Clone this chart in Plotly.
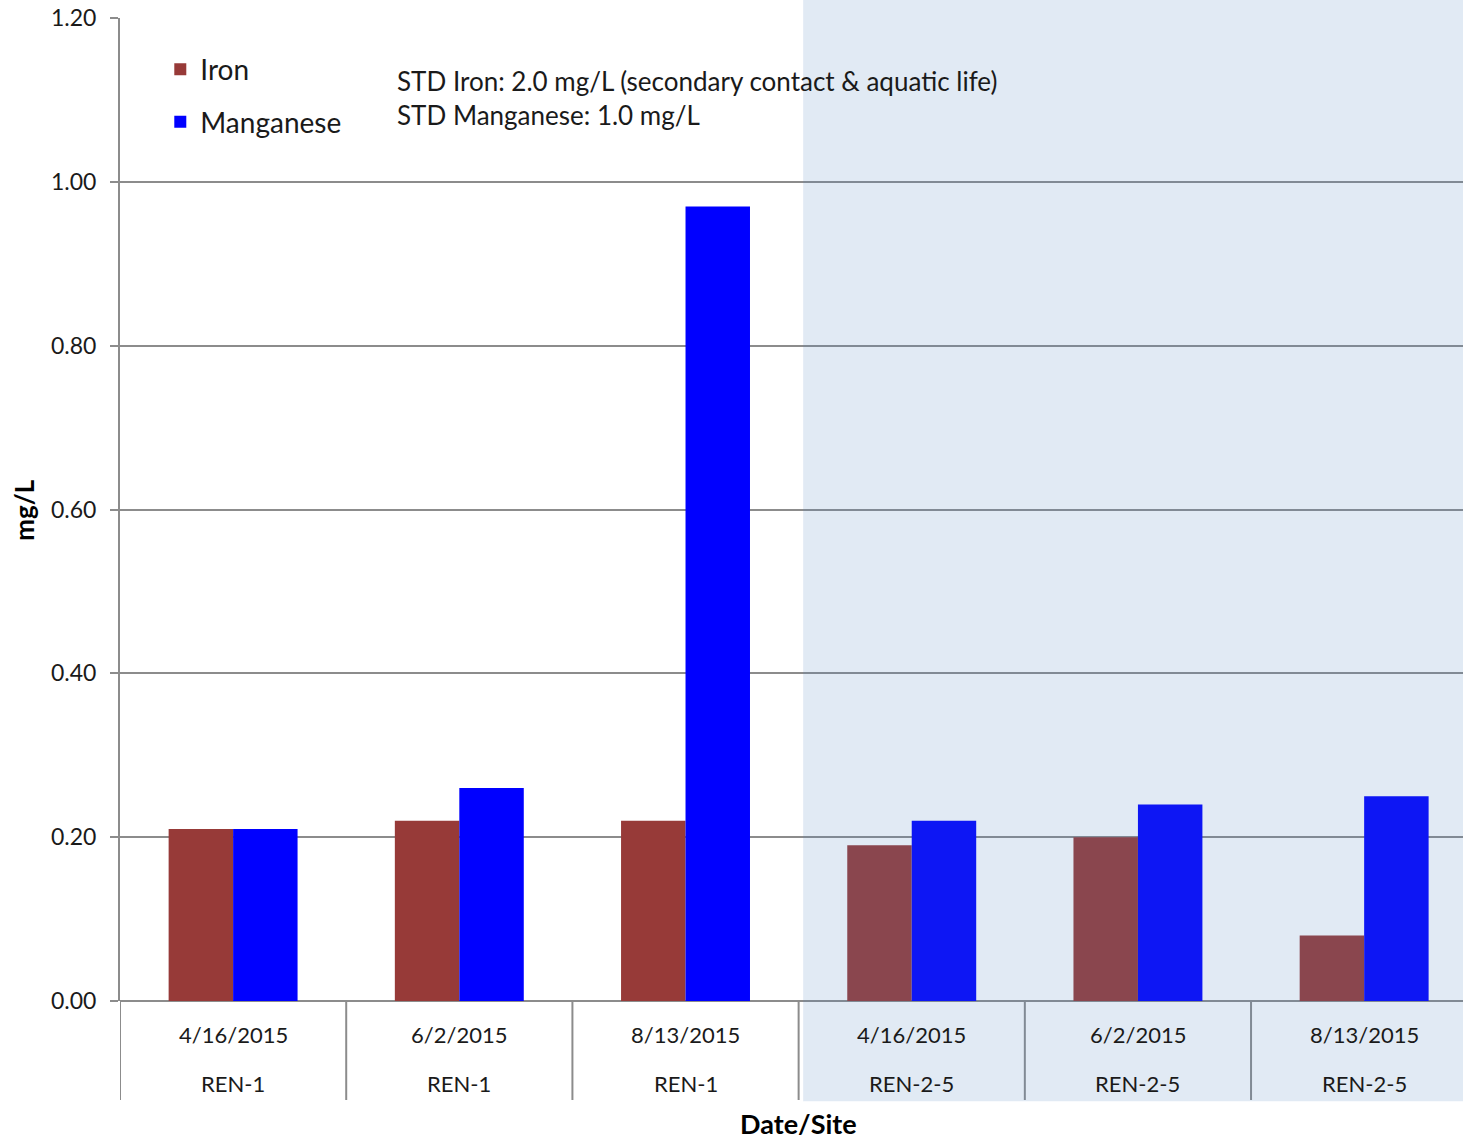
import plotly.graph_objects as go

dates = ["4/16/2015", "6/2/2015", "8/13/2015", "4/16/2015", "6/2/2015", "8/13/2015"]
sites = ["REN-1", "REN-1", "REN-1", "REN-2-5", "REN-2-5", "REN-2-5"]
iron = [0.21, 0.22, 0.22, 0.19, 0.20, 0.08]
manganese = [0.21, 0.26, 0.97, 0.22, 0.24, 0.25]

FONT = "Lato, 'Open Sans', sans-serif"
GRID = "#8c8c8c"
TXT = "#1a1a1a"
idx = list(range(len(dates)))

fig = go.Figure()
fig.add_trace(go.Bar(x=idx, y=iron, name="Iron", marker_color="#973A38",
                     marker_line_width=0, legendgroup="fe"))
fig.add_trace(go.Bar(x=idx, y=manganese, name="Manganese", marker_color="#0000FF",
                     marker_line_width=0, legendgroup="mn"))

# category labels: date row and site row
for i in idx:
    fig.add_annotation(x=i, y=-0.0336, xref="x", yref="paper", yanchor="middle",
                       text=dates[i], showarrow=False, font=dict(size=22, color=TXT))
    fig.add_annotation(x=i, y=-0.0844, xref="x", yref="paper", yanchor="middle",
                       text=sites[i], showarrow=False, font=dict(size=22, color=TXT))
    # separators between categories
    fig.add_shape(type="line", xref="x", yref="paper", x0=i - 0.5, x1=i - 0.5,
                  y0=0, y1=-0.1007, line=dict(color=GRID, width=2))

# shaded overlay for the second site
fig.add_shape(type="rect", xref="x", yref="paper", x0=2.52, x1=6, y0=-0.102, y1=1.02,
              fillcolor="rgb(80,130,190)", opacity=0.17, line_width=0, layer="above")

fig.add_annotation(x=0.205, y=0.954, xref="paper", yref="paper", xanchor="left", yanchor="top",
                   align="left", showarrow=False,
                   text="STD Iron: 2.0 mg/L (secondary contact & aquatic life)<br>STD Manganese: 1.0 mg/L",
                   font=dict(size=26, color=TXT))

fig.add_annotation(x=2.5, y=-0.125, xref="x", yref="paper", yanchor="middle",
                   text="<b>Date/Site</b>", showarrow=False, font=dict(size=27, color="#000000"))

fig.add_annotation(x=-0.072, y=0.5, xref="paper", yref="paper", xanchor="center", yanchor="middle",
                   text="<b>mg/L</b>", textangle=-90, showarrow=False,
                   font=dict(size=26, color="#000000"))

fig.update_layout(
    width=1463, height=1141,
    margin=dict(l=120, r=0, t=18, b=140),
    paper_bgcolor="white", plot_bgcolor="white",
    font=dict(family=FONT, color=TXT),
    barmode="group", bargap=0.43, bargroupgap=0,
    showlegend=True,
    legend=dict(x=0.03, y=0.973, xanchor="left", yanchor="top",
                font=dict(size=28, color=TXT), tracegroupgap=13,
                bgcolor="rgba(0,0,0,0)", itemwidth=30),
    xaxis=dict(range=[-0.5, 5.437], showticklabels=False, showgrid=False,
               zeroline=False, showline=False, ticks=""),
    yaxis=dict(range=[0, 1.2], dtick=0.2, tickformat=".2f",
               showgrid=True, gridcolor=GRID, gridwidth=2,
               showline=True, linecolor=GRID, linewidth=2,
               zeroline=True, zerolinecolor=GRID, zerolinewidth=2,
               ticks="outside", ticklen=8, tickcolor=GRID, tickwidth=2,
               ticklabelstandoff=9,
               tickfont=dict(size=23, color=TXT)),
)

fig.write_html("out.html", config={"displayModeBar": False},
               post_script="document.body.style.margin='0';")
